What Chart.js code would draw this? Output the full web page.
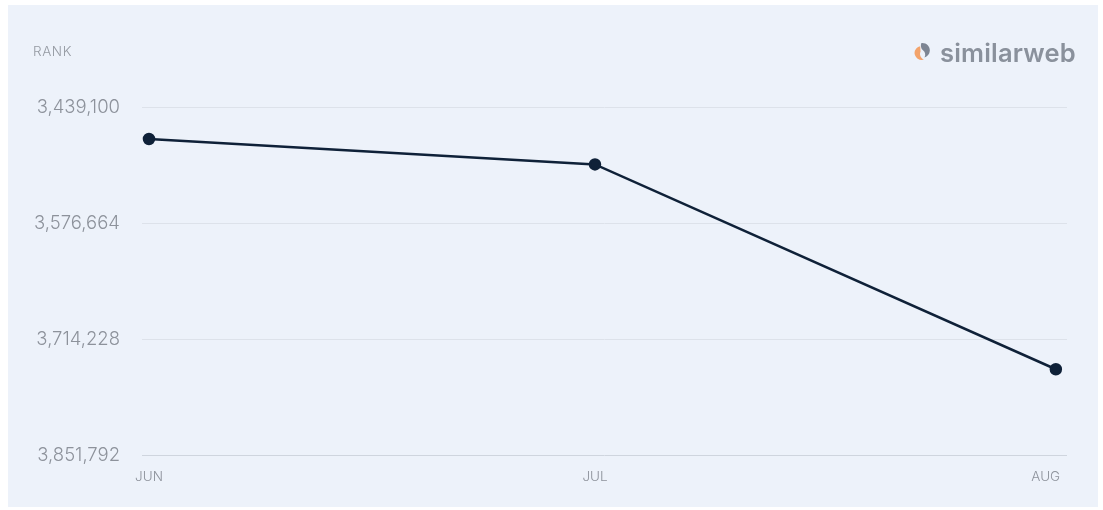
<!DOCTYPE html>
<html>
<head>
<meta charset="utf-8">
<script src="https://cdn.jsdelivr.net/npm/chart.js@4.4.0/dist/chart.umd.min.js"></script>
<style>
  html, body { margin: 0; padding: 0; background: #ffffff; }
  #panel {
    position: absolute; left: 8px; top: 5px; width: 1090px; height: 502px;
    background: #edf2fa;
  }
  #wrap { position: absolute; left: -8px; top: -5px; width: 1103px; height: 510px; }
  #rank {
    position: absolute; left: 25px; top: 38px;
    font: 300 13.5px Inter, "Noto Sans", sans-serif; color: #959aa2; letter-spacing: 0.6px;
  }
  #brand {
    position: absolute; left: 904px; top: 32px; height: 30px;
    display: flex; align-items: center;
    font: 600 25.5px Inter, "Noto Sans", sans-serif; color: #8a919c; letter-spacing: 0.2px;
  }
  #brand svg { margin-right: 8px; }
</style>
</head>
<body>
<div id="panel">
  <div id="wrap"><canvas id="c" width="1103" height="510"></canvas></div>
  <div id="rank">RANK</div>
  <div id="brand">
    <svg width="20" height="22" viewBox="0 0 16 18">
      <path d="M6.5 4.2 C3 5.2 1.2 8.2 2.2 11.4 C3.2 14.6 6.8 16.2 9.6 15.2 C7 14 5.6 11.2 6.8 8.6 Z" fill="#f3a36b"/>
      <path d="M7.5 1.6 C11.5 1.2 14.6 4.2 14.4 8 C14.2 10.8 12.4 12.8 10 13.6 C11.2 11.6 10.8 9 8.8 7.6 C7.2 6.4 6.6 3.8 7.5 1.6 Z" fill="#7d8593"/>
    </svg>
    <span>similarweb</span>
  </div>
</div>
<script>
// Monthly rank, plotted against days since 1 June
const months = ['JUN', 'JUL', 'AUG'];
const dayOffsets = [0, 30, 61];
const rankValues = [3477100, 3507200, 3750100];
const rankTicks = [3439100, 3576664, 3714228, 3851792];

const points = dayOffsets.map((d, i) => ({ x: d, y: rankValues[i] }));

const axisText = '#8d929b';
const gridColor = '#dde2ea';

new Chart(document.getElementById('c'), {
  type: 'line',
  data: {
    datasets: [{
      data: points,
      borderColor: '#0f2138',
      backgroundColor: '#0f2138',
      borderWidth: 2.5,
      pointRadius: 5,
      pointHoverRadius: 5,
      tension: 0,
      fill: false
    }]
  },
  options: {
    responsive: false,
    animation: false,
    layout: { padding: { top: 107, right: 36, left: 0, bottom: 0 } },
    plugins: { legend: { display: false }, tooltip: { enabled: false } },
    scales: {
      x: {
        type: 'linear',
        min: -0.47,
        max: 61.75,
        afterBuildTicks: (scale) => { scale.ticks = dayOffsets.map(v => ({ value: v })); },
        afterFit: (scale) => { scale.height = 55; },
        ticks: {
          // last label sits flush with the right end of the plot
          callback: (v) => {
            const i = dayOffsets.indexOf(v);
            return i === months.length - 1 ? months[i] + '\u2003\u2002' : months[i];
          },
          color: axisText,
          font: { family: 'Inter', size: 13.5, weight: 300 },
          padding: 14,
          maxRotation: 0,
          autoSkip: false
        },
        grid: { display: false, drawTicks: false },
        border: { display: false }
      },
      y: {
        reverse: true,
        min: rankTicks[0],
        max: rankTicks[rankTicks.length - 1],
        afterBuildTicks: (scale) => { scale.ticks = rankTicks.map(v => ({ value: v })); },
        afterFit: (scale) => { scale.width = 142; },
        ticks: {
          callback: (v) => v.toLocaleString('en-US'),
          color: axisText,
          font: { family: 'Inter', size: 18.5, weight: 300 },
          padding: 22
        },
        grid: {
          color: (ctx) => ctx.index === rankTicks.length - 1 ? '#cfd5de' : gridColor,
          lineWidth: 1,
          drawTicks: false
        },
        border: { display: false }
      }
    }
  }
});
</script>
</body>
</html>
